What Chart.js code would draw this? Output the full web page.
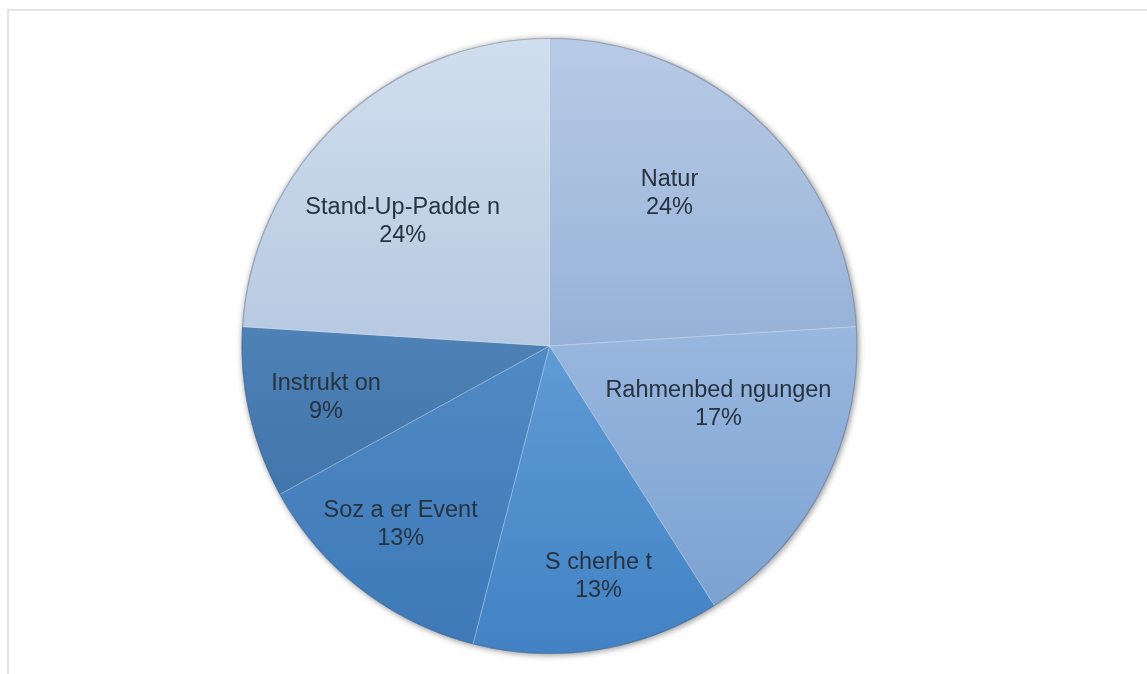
<!DOCTYPE html>
<html>
<head>
<meta charset="utf-8">
<script src="https://cdn.jsdelivr.net/npm/chart.js@4"></script>
<style>
  html, body { margin: 0; padding: 0; background: #fff; }
  #frame {
    position: absolute; left: 7px; top: 9px; right: 0; bottom: 0;
    border-top: 2px solid #e3e3e3; border-left: 2px solid #e3e3e3;
  }
  #pie { position: absolute; left: 0; top: 0; }
</style>
</head>
<body>
<div id="frame"></div>
<canvas id="pie" width="1147" height="674"></canvas>
<script>
// parts of the pie, clockwise from 12 o'clock
const categories = ["Natur", "Rahmenbed ngungen", "S cherhe t", "Soz a er Event", "Instrukt on", "Stand-Up-Padde n"];
const shares = [24, 17, 13, 13, 9, 24];

// gradient top -> bottom of the pie for every slice
const sliceShades = [
  [[0, "#b8cbe6"], [0.5, "#96b1d7"]],
  [[0.45, "#9ab8df"], [0.95, "#7aa1d1"]],
  [[0.5, "#5f9bd4"], [1, "#4282c4"]],
  [[0.5, "#508ac4"], [1, "#3d79b8"]],
  [[0.4, "#5285b8"], [0.85, "#3c71a8"]],
  [[0, "#d0deee"], [0.5, "#b7c9e1"]]
];

// where the text sits: share of the radius, turn off the middle angle (deg)
const labelSpots = [
  { dist: 0.63, turn: -5 },
  { dist: 0.58, turn: -8 },
  { dist: 0.765, turn: -3 },
  { dist: 0.755, turn: 2 },
  { dist: 0.745, turn: -0.5 },
  { dist: 0.625, turn: -6.5 }
];

function shade(context) {
  const chart = context.chart;
  const area = chart.chartArea;
  if (!area) return sliceShades[context.dataIndex][0][1];
  const g = chart.ctx.createLinearGradient(0, area.top, 0, area.bottom);
  sliceShades[context.dataIndex].forEach(s => g.addColorStop(s[0], s[1]));
  return g;
}

// soft drop shadow round the pie
const rimShadow = {
  id: "rimShadow",
  beforeDatasetsDraw(chart) {
    const arc = chart.getDatasetMeta(0).data[0];
    if (!arc) return;
    const ctx = chart.ctx;
    ctx.save();
    ctx.shadowColor = "rgba(0,0,0,0.45)";
    ctx.shadowBlur = 6;
    ctx.shadowOffsetX = 1;
    ctx.shadowOffsetY = 1;
    ctx.fillStyle = "#8aa8cf";
    ctx.beginPath();
    ctx.arc(arc.x, arc.y, arc.outerRadius, 0, Math.PI * 2);
    ctx.fill();
    ctx.restore();
  },
  afterDatasetsDraw(chart) {
    const arc = chart.getDatasetMeta(0).data[0];
    const ctx = chart.ctx;
    ctx.save();
    ctx.strokeStyle = "rgba(70,70,80,0.35)";
    ctx.lineWidth = 1.2;
    ctx.beginPath();
    ctx.arc(arc.x, arc.y, arc.outerRadius - 0.5, 0, Math.PI * 2);
    ctx.stroke();
    ctx.restore();
  }
};

// name + percentage inside each slice
const sliceLabels = {
  id: "sliceLabels",
  afterDatasetsDraw(chart) {
    const ctx = chart.ctx;
    const meta = chart.getDatasetMeta(0);
    ctx.save();
    ctx.font = '23.5px "Liberation Sans", Arial, sans-serif';
    ctx.fillStyle = "#27323f";
    ctx.textAlign = "center";
    ctx.textBaseline = "middle";
    meta.data.forEach((arc, i) => {
      const spot = labelSpots[i];
      const a = (arc.startAngle + arc.endAngle) / 2 + spot.turn * Math.PI / 180;
      const r = arc.outerRadius * spot.dist;
      const x = arc.x + Math.cos(a) * r;
      const y = arc.y + Math.sin(a) * r;
      ctx.fillText(categories[i], x, y - 14);
      ctx.fillText(shares[i] + "%", x, y + 14);
    });
    ctx.restore();
  }
};

const config = {
  type: "pie",
  data: {
    labels: categories,
    datasets: [{
      data: shares,
      backgroundColor: shade,
      borderColor: "rgba(255,255,255,0.25)",
      borderWidth: 1
    }]
  },
  options: {
    responsive: false,
    animation: false,
    layout: { padding: { left: 241, right: 289, top: 37, bottom: 19 } },
    plugins: {
      legend: { display: false },
      tooltip: { enabled: false }
    }
  },
  plugins: [rimShadow, sliceLabels]
};

let context = document.getElementById("pie").getContext("2d");
let chart = new Chart(context, config);
</script>
</body>
</html>
